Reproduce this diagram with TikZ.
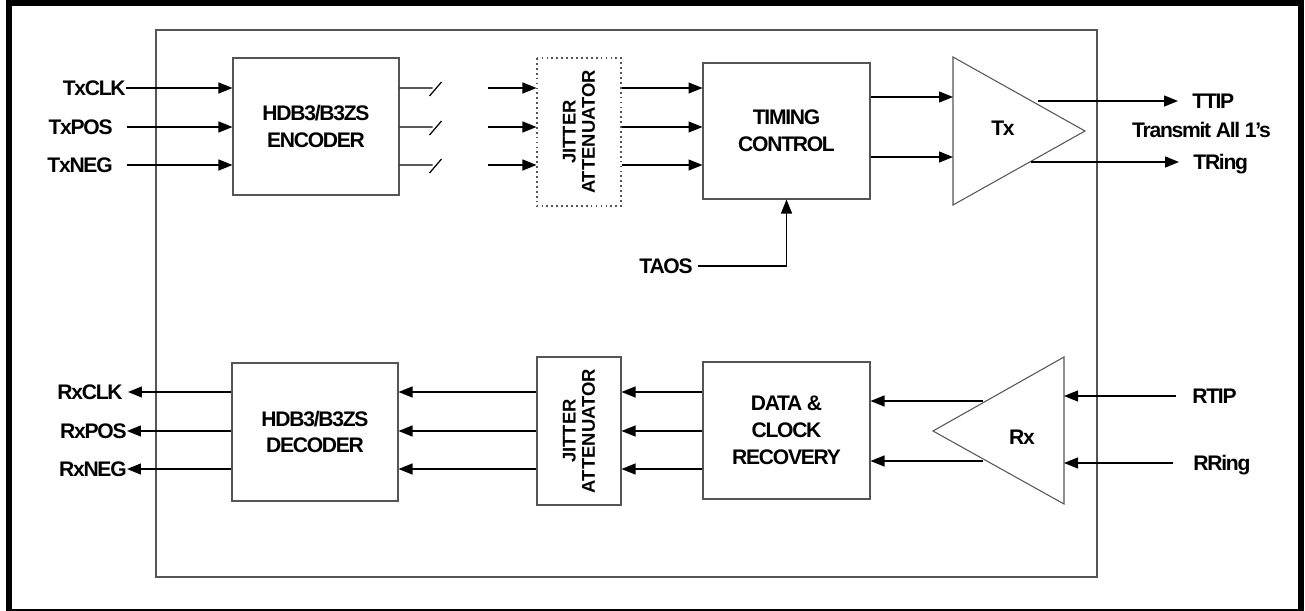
\documentclass[tikz,border=0pt]{standalone}
\usepackage{fontspec}
\setmainfont{Liberation Sans}
\newfontfamily\tightfont{Liberation Sans}[LetterSpace=-6]
\usetikzlibrary{arrows.meta, positioning, calc}
\definecolor{chip_gray}{RGB}{85, 85, 85}

\begin{document}
\begin{tikzpicture}[
      x=0.02cm, y=-0.02cm,
      blk/.style={rectangle, draw=chip_gray, line width=0.6pt, align=center,
                  inner sep=0pt, font=\tightfont\fontsize{12}{15.3}\selectfont\bfseries},
      jit/.style={blk, rotate=90, minimum width=2.96cm, minimum height=1.68cm,
                  font=\rmfamily\fontsize{10.5}{11}\selectfont\bfseries},
      pin/.style={font=\tightfont\fontsize{12}{14}\selectfont\bfseries, inner sep=0pt,
                  text height=8.6pt, text depth=0pt},
      amp/.style={draw=chip_gray, line width=0.6pt},
      arr/.style={-{Triangle[length=0.28cm, width=0.22cm]}, line width=0.7pt},
      wire/.style={line width=0.7pt},
    ]
      \useasboundingbox (0,0) rectangle (1305,611);
      \draw[line width=0.12cm] (9,3.5) rectangle (1301,612);
      \draw[chip_gray, line width=0.6pt] (156,30) rectangle (1097,577);

      % signal rows
      \coordinate (t1) at (0,88);  \coordinate (t2) at (0,127); \coordinate (t3) at (0,165);
      \coordinate (u1) at (0,97);  \coordinate (u2) at (0,157);
      \coordinate (r1) at (0,392); \coordinate (r2) at (0,431); \coordinate (r3) at (0,469);
      \coordinate (v1) at (0,401); \coordinate (v2) at (0,461);

      % transmit side
      \node[blk, minimum width=3.32cm, minimum height=2.74cm] (enc) at (316,126.5)
            {HDB3/B3ZS\\ENCODER};
      \node[jit, dash pattern=on 1pt off 1.8pt] (jatx) at (579,132) {JITTER\\ATTENUATOR};
      \node[blk, minimum width=3.34cm, minimum height=2.72cm] (tim) at (786.5,131)
            {TIMING\\CONTROL};
      \draw[amp] (953,57) coordinate (txa) -- (1085,131) -- (953,205) -- cycle;
      \node[pin] (tx) at (1003,128) {Tx};

      \node[pin, anchor=east] (txclk) at (126,88)  {TxCLK};
      \node[pin, anchor=east] (txpos) at (113,127) {TxPOS};
      \node[pin, anchor=east] (txneg) at (113,165) {TxNEG};
      \draw[arr] (txclk.east) -- (txclk -| enc.west);
      \draw[arr] ([xshift=0.28cm]txpos.east) -- (txpos -| enc.west);
      \draw[arr] ([xshift=0.28cm]txneg.east) -- (txneg -| enc.west);

      \foreach \t in {t1, t2, t3} {
        \draw[wire] (enc.east |- \t) -- ++(33,0) ++(-3,8) -- ++(12,-14);
        \draw[arr] ($(jatx.north |- \t)+(-48,0)$) -- (jatx.north |- \t);
        \draw[arr] (jatx.south |- \t) -- (tim.west |- \t);
      }
      \draw[arr] (tim.east |- u1) -- (txa |- u1);
      \draw[arr] (tim.east |- u2) -- (txa |- u2);

      \node[pin, anchor=west] (ttip)  at (1192,101) {TTIP};
      \node[pin]              (tall)  at (1201.5,130) {Transmit All 1’s};
      \node[pin, anchor=west] (tring) at (1193,162) {TRing};
      \draw[arr] (1038,101) -- ([xshift=-0.28cm]ttip.west);
      \draw[arr] (1031,162) -- ([xshift=-0.28cm]tring.west);

      \node[pin, anchor=east] (taos) at (693,266) {TAOS};
      \draw[arr] ([xshift=0.1cm]taos.east) -| (tim.south);

      % receive side
      \node[blk, minimum width=3.32cm, minimum height=2.76cm] (dec) at (315,432)
            {HDB3/B3ZS\\DECODER};
      \node[jit] (jarx) at (579,431) {JITTER\\ATTENUATOR};
      \node[blk, minimum width=3.34cm, minimum height=2.74cm] (dcr) at (786.5,430.5)
            {DATA \&\\CLOCK\\RECOVERY};
      \draw[amp] (1064,357) coordinate (rxr) -- (933,431) -- (1064,504) -- cycle;
      \node[pin] (rx) at (1022,437) {Rx};

      \foreach \r in {r1, r2, r3} {
        \draw[arr] (dcr.west |- \r) -- (jarx.south |- \r);
        \draw[arr] (jarx.north |- \r) -- (dec.east |- \r);
      }
      \draw[arr] (983,401) -- (dcr.east |- v1);
      \draw[arr] (983,461) -- (dcr.east |- v2);

      \node[pin, anchor=east] (rxclk) at (123,392) {RxCLK};
      \node[pin, anchor=east] (rxpos) at (127,431) {RxPOS};
      \node[pin, anchor=east] (rxneg) at (127,469) {RxNEG};
      \draw[arr] (dec.west |- rxclk) -- ([xshift=0.1cm]rxclk.east);
      \draw[arr] (dec.west |- rxpos) -- (rxpos.east);
      \draw[arr] (dec.west |- rxneg) -- (rxneg.east);

      \node[pin, anchor=west] (rtip)  at (1192,396) {RTIP};
      \node[pin, anchor=west] (rring) at (1193,463) {RRing};
      \draw[arr] ([xshift=-0.32cm]rtip.west) -- (rxr |- rtip);
      \draw[arr] ([xshift=-0.4cm]rring.west) -- (rxr |- rring);
    \end{tikzpicture}
\end{document}
